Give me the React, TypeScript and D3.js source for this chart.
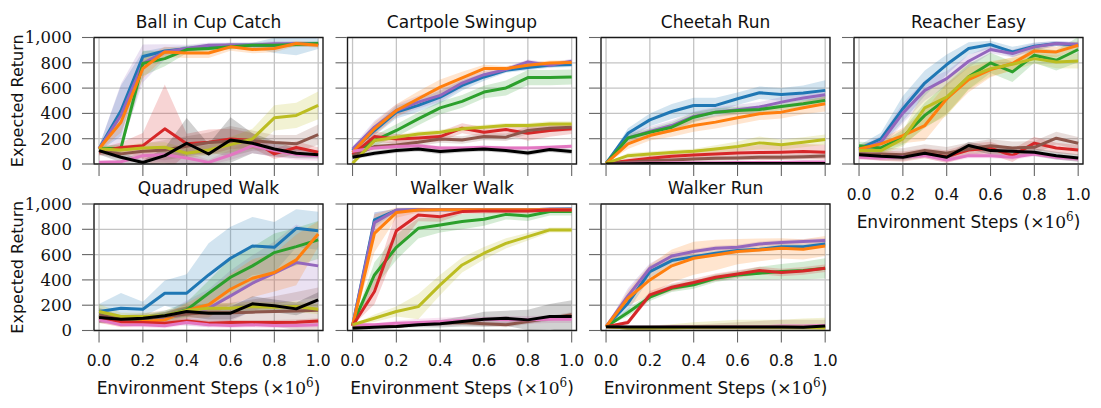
import React, { useEffect, useRef } from "react"
import * as d3 from "d3"

// training steps (x 1e6) at which every run was evaluated
const steps = [0, 0.1, 0.2, 0.3, 0.4, 0.5, 0.6, 0.7, 0.8, 0.9, 1.0]
const xTicks = [0, 0.2, 0.4, 0.6, 0.8, 1.0]
const yTicks = [0, 200, 400, 600, 800, 1000]

// drawing order, bottom to top
const order = ["blue", "purple", "green", "orange", "red", "brown", "pink", "olive", "black"]

const colors: Record<string, string> = {
  blue: "#1f77b4",
  orange: "#ff7f0e",
  green: "#2ca02c",
  red: "#d62728",
  purple: "#9467bd",
  brown: "#8c564b",
  pink: "#e377c2",
  olive: "#bcbd22",
  black: "#000000",
}

const titles = [
  "Ball in Cup Catch",
  "Cartpole Swingup",
  "Cheetah Run",
  "Reacher Easy",
  "Quadruped Walk",
  "Walker Walk",
  "Walker Run",
]

const cupMean: Record<string, number[]> = {
  blue: [120, 420, 850, 893, 912, 930, 938, 938, 938, 950, 950],
  purple: [120, 385, 795, 886, 913, 938, 940, 940, 950, 950, 945],
  green: [120, 125, 795, 833, 905, 913, 926, 938, 938, 945, 952],
  orange: [120, 330, 755, 886, 878, 878, 926, 905, 913, 952, 938],
  red: [95, 130, 145, 278, 160, 172, 198, 185, 80, 130, 93],
  brown: [105, 80, 100, 110, 140, 170, 180, 185, 170, 160, 233],
  pink: [13, 18, 66, 74, 48, 13, 71, 145, 106, 74, 66],
  olive: [119, 111, 127, 132, 85, 111, 153, 198, 365, 384, 463],
  black: [106, 53, 12, 66, 164, 79, 190, 164, 119, 85, 74],
}
const cupSpread: Record<string, number[]> = {
  blue: [20, 200, 40, 30, 20, 20, 20, 20, 60, 90, 40],
  purple: [20, 250, 150, 60, 30, 20, 20, 20, 20, 20, 20],
  green: [20, 30, 100, 60, 30, 20, 20, 20, 20, 20, 20],
  orange: [20, 80, 80, 40, 40, 40, 30, 30, 30, 20, 20],
  red: [30, 40, 100, 350, 80, 100, 80, 60, 40, 50, 40],
  brown: [30, 40, 60, 80, 80, 80, 120, 80, 60, 70, 80],
  pink: [10, 15, 40, 60, 40, 20, 40, 60, 50, 40, 40],
  olive: [30, 30, 40, 40, 40, 40, 60, 80, 100, 100, 110],
  black: [30, 40, 20, 60, 200, 80, 180, 80, 60, 40, 30],
}

const cartMean: Record<string, number[]> = {
  blue: [106, 265, 410, 463, 529, 622, 688, 741, 762, 780, 786],
  purple: [119, 291, 423, 489, 542, 640, 706, 746, 807, 780, 812],
  green: [66, 185, 265, 357, 444, 495, 569, 601, 683, 683, 688],
  orange: [93, 278, 423, 516, 608, 680, 754, 754, 780, 799, 802],
  red: [74, 217, 198, 206, 217, 283, 251, 272, 243, 265, 278],
  brown: [66, 138, 151, 172, 198, 190, 217, 212, 265, 283, 291],
  pink: [100, 127, 138, 145, 127, 127, 132, 127, 127, 132, 140],
  olive: [5, 185, 212, 238, 251, 278, 291, 304, 304, 317, 317],
  black: [53, 85, 106, 119, 98, 111, 119, 106, 87, 114, 98],
}
const cartSpread: Record<string, number[]> = {
  blue: [20, 40, 50, 50, 50, 40, 30, 20, 20, 20, 20],
  purple: [20, 50, 50, 50, 50, 40, 30, 20, 20, 20, 20],
  green: [20, 40, 50, 50, 50, 50, 50, 60, 60, 60, 60],
  orange: [20, 50, 50, 60, 60, 50, 30, 20, 20, 20, 20],
  red: [20, 40, 40, 30, 40, 40, 40, 40, 60, 50, 40],
  brown: [20, 30, 30, 30, 30, 30, 30, 30, 30, 30, 30],
  pink: [15, 15, 15, 15, 15, 15, 15, 15, 15, 15, 15],
  olive: [10, 20, 20, 20, 20, 20, 20, 20, 20, 20, 20],
  black: [15, 20, 20, 20, 20, 20, 20, 20, 20, 20, 20],
}

const cheetahMean: Record<string, number[]> = {
  blue: [5, 243, 349, 415, 463, 463, 516, 563, 550, 561, 582],
  purple: [5, 206, 257, 304, 376, 410, 429, 450, 489, 521, 548],
  green: [5, 206, 251, 291, 370, 410, 423, 431, 455, 476, 503],
  orange: [5, 159, 225, 265, 304, 331, 365, 397, 410, 444, 476],
  red: [5, 26, 45, 61, 71, 79, 87, 90, 93, 98, 93],
  brown: [5, 13, 26, 32, 40, 45, 48, 53, 53, 58, 63],
  pink: [0, 5, 8, 10, 10, 10, 12, 12, 12, 15, 15],
  olive: [5, 66, 79, 90, 100, 119, 138, 167, 153, 172, 193],
  black: [0, 2, 3, 3, 3, 3, 3, 3, 3, 3, 3],
}
const cheetahSpread: Record<string, number[]> = {
  blue: [0, 40, 50, 60, 60, 60, 50, 50, 50, 60, 80],
  purple: [0, 40, 40, 40, 40, 40, 40, 40, 40, 40, 40],
  green: [0, 30, 30, 40, 40, 30, 30, 30, 30, 30, 30],
  orange: [0, 40, 40, 50, 50, 50, 50, 50, 50, 50, 60],
  red: [0, 20, 30, 40, 40, 50, 50, 60, 60, 60, 60],
  brown: [0, 10, 20, 20, 20, 20, 20, 20, 20, 20, 20],
  pink: [0, 5, 5, 5, 5, 5, 5, 5, 5, 5, 5],
  olive: [0, 20, 20, 20, 20, 30, 40, 50, 40, 40, 40],
  black: [0, 3, 3, 3, 3, 3, 3, 3, 3, 3, 3],
}

const reacherMean: Record<string, number[]> = {
  blue: [119, 198, 437, 640, 786, 913, 944, 886, 931, 952, 939],
  purple: [106, 172, 402, 582, 675, 812, 905, 873, 926, 952, 947],
  green: [145, 127, 212, 384, 516, 690, 799, 728, 860, 820, 905],
  orange: [119, 159, 225, 304, 516, 667, 746, 794, 894, 886, 939],
  red: [74, 66, 58, 85, 58, 110, 125, 66, 165, 127, 111],
  brown: [79, 79, 74, 106, 85, 119, 145, 127, 132, 204, 164],
  pink: [53, 48, 58, 66, 32, 66, 66, 53, 79, 53, 40],
  olive: [106, 106, 198, 444, 529, 688, 754, 788, 833, 807, 815],
  black: [74, 61, 53, 85, 53, 146, 106, 100, 93, 66, 48],
}
const reacherSpread: Record<string, number[]> = {
  blue: [30, 50, 100, 100, 80, 50, 30, 40, 30, 20, 20],
  purple: [30, 50, 80, 80, 60, 50, 30, 30, 30, 20, 20],
  green: [30, 40, 60, 100, 120, 100, 80, 80, 60, 80, 100],
  orange: [30, 40, 60, 120, 120, 100, 60, 50, 40, 40, 30],
  red: [30, 40, 40, 40, 50, 50, 50, 50, 50, 40, 40],
  brown: [40, 50, 50, 50, 50, 50, 50, 50, 50, 50, 50],
  pink: [20, 20, 20, 20, 20, 20, 20, 20, 20, 20, 20],
  olive: [30, 30, 60, 150, 150, 100, 60, 50, 40, 50, 60],
  black: [20, 20, 20, 20, 20, 30, 30, 30, 30, 30, 30],
}

const quadMean: Record<string, number[]> = {
  blue: [150, 176, 168, 295, 295, 439, 571, 668, 658, 808, 789],
  purple: [110, 70, 80, 97, 137, 176, 274, 374, 453, 537, 511],
  green: [124, 71, 89, 116, 163, 295, 421, 511, 616, 663, 716],
  orange: [110, 58, 71, 84, 158, 203, 326, 413, 458, 558, 763],
  red: [97, 71, 63, 58, 76, 58, 63, 63, 63, 66, 76],
  brown: [120, 90, 95, 110, 130, 140, 140, 145, 150, 155, 160],
  pink: [84, 45, 45, 37, 63, 45, 39, 45, 39, 39, 45],
  olive: [150, 110, 110, 116, 158, 176, 176, 189, 184, 189, 168],
  black: [103, 89, 97, 116, 150, 137, 137, 211, 195, 171, 242],
}
const quadSpread: Record<string, number[]> = {
  blue: [60, 120, 60, 100, 150, 250, 250, 230, 200, 150, 150],
  purple: [50, 30, 30, 40, 100, 150, 200, 220, 250, 300, 250],
  green: [50, 30, 30, 40, 60, 100, 150, 150, 150, 150, 150],
  orange: [50, 30, 30, 40, 60, 100, 120, 150, 150, 200, 100],
  red: [30, 20, 20, 20, 20, 20, 20, 20, 20, 20, 20],
  brown: [60, 30, 40, 50, 60, 70, 80, 100, 120, 150, 180],
  pink: [20, 20, 20, 20, 20, 20, 20, 20, 20, 20, 20],
  olive: [60, 30, 30, 30, 40, 40, 40, 40, 40, 40, 40],
  black: [40, 20, 20, 30, 40, 50, 50, 60, 50, 50, 60],
}

const walkMean: Record<string, number[]> = {
  blue: [37, 875, 950, 955, 955, 955, 955, 955, 955, 958, 960],
  purple: [37, 853, 953, 955, 955, 955, 955, 955, 955, 958, 958],
  green: [45, 439, 658, 808, 834, 861, 879, 918, 905, 940, 940],
  orange: [37, 768, 932, 953, 955, 955, 955, 955, 955, 955, 955],
  red: [37, 308, 789, 913, 900, 940, 945, 945, 945, 953, 953],
  brown: [37, 32, 32, 53, 58, 63, 53, 45, 71, 97, 124],
  pink: [45, 45, 58, 63, 71, 79, 89, 84, 84, 89, 89],
  olive: [45, 97, 150, 189, 361, 518, 611, 689, 742, 795, 795],
  black: [18, 26, 32, 45, 53, 71, 89, 97, 84, 110, 110],
}
const walkSpread: Record<string, number[]> = {
  blue: [0, 60, 10, 10, 10, 10, 10, 10, 10, 10, 10],
  purple: [0, 80, 10, 10, 10, 10, 10, 10, 10, 10, 10],
  green: [0, 100, 100, 80, 60, 60, 50, 40, 40, 30, 30],
  orange: [0, 150, 40, 20, 10, 10, 10, 10, 10, 10, 10],
  red: [0, 100, 150, 50, 40, 20, 20, 20, 20, 20, 20],
  brown: [0, 10, 10, 20, 20, 20, 20, 20, 20, 20, 20],
  pink: [10, 10, 20, 30, 30, 30, 20, 30, 30, 30, 30],
  olive: [0, 30, 40, 100, 80, 60, 50, 40, 30, 20, 20],
  black: [0, 10, 10, 20, 30, 40, 60, 60, 80, 100, 130],
}

const runMean: Record<string, number[]> = {
  blue: [30, 216, 466, 553, 584, 611, 632, 642, 663, 663, 684],
  purple: [30, 274, 492, 589, 624, 650, 658, 684, 695, 703, 711],
  green: [30, 142, 263, 334, 361, 413, 439, 453, 466, 474, 492],
  orange: [30, 255, 400, 511, 571, 597, 624, 637, 650, 642, 668],
  red: [30, 63, 282, 342, 379, 421, 447, 474, 458, 471, 492],
  brown: [30, 20, 20, 25, 25, 25, 25, 25, 25, 25, 25],
  pink: [30, 25, 25, 28, 28, 30, 30, 30, 35, 35, 40],
  olive: [30, 20, 20, 20, 25, 25, 25, 25, 25, 25, 20],
  black: [30, 28, 28, 28, 28, 28, 28, 28, 28, 25, 35],
}
const runSpread: Record<string, number[]> = {
  blue: [0, 60, 50, 30, 20, 20, 20, 20, 20, 20, 20],
  purple: [0, 60, 40, 30, 20, 20, 20, 20, 20, 20, 20],
  green: [0, 30, 30, 30, 30, 30, 30, 50, 60, 70, 80],
  orange: [0, 60, 120, 130, 130, 120, 100, 90, 80, 80, 80],
  red: [0, 20, 30, 30, 30, 30, 30, 30, 30, 30, 30],
  brown: [0, 10, 10, 20, 20, 30, 40, 50, 60, 60, 60],
  pink: [0, 5, 5, 5, 5, 5, 5, 5, 5, 5, 5],
  olive: [0, 10, 20, 30, 40, 50, 60, 60, 60, 70, 80],
  black: [0, 5, 5, 5, 5, 5, 5, 5, 5, 5, 5],
}

const means = [cupMean, cartMean, cheetahMean, reacherMean, quadMean, walkMean, runMean]
const spreads = [cupSpread, cartSpread, cheetahSpread, reacherSpread, quadSpread, walkSpread, runSpread]

const colLefts = [94, 347.5, 601, 854]
const rowTops = [37.5, 204]
const panelW = 229
const panelH = 126.5

const sans = "'DejaVu Sans', 'Liberation Sans', sans-serif"
const serif = "'DejaVu Serif', 'Liberation Serif', serif"

const App = () => {
  const ref = useRef<SVGSVGElement>(null)

  const drawChart = () => {
    const svg = d3.select(ref.current)
    svg.selectAll("*").remove()
    const defs = svg.append("defs")

    titles.forEach((title, i) => {
      const row = i < 4 ? 0 : 1
      const col = i < 4 ? i : i - 4
      const left = colLefts[col]
      const top = rowTops[row]
      const bottom = top + panelH
      const showX = row === 1 || col === 3
      const showY = col === 0

      const x = d3.scaleLinear().domain([-0.023, 1.022]).range([left, left + panelW])
      const y = d3.scaleLinear().domain([0, 1000]).range([bottom, top])

      defs
        .append("clipPath")
        .attr("id", `clip-${i}`)
        .append("rect")
        .attr("x", left)
        .attr("y", top)
        .attr("width", panelW)
        .attr("height", panelH)

      const g = svg.append("g")

      // grid
      g.selectAll(".gx")
        .data(xTicks)
        .join("line")
        .attr("x1", (d) => x(d))
        .attr("x2", (d) => x(d))
        .attr("y1", top)
        .attr("y2", bottom)
        .attr("stroke", "#c4c4c4")
        .attr("stroke-width", 1.3)
      g.selectAll(".gy")
        .data(yTicks)
        .join("line")
        .attr("x1", left)
        .attr("x2", left + panelW)
        .attr("y1", (d) => y(d))
        .attr("y2", (d) => y(d))
        .attr("stroke", "#c4c4c4")
        .attr("stroke-width", 1.3)

      const plot = g.append("g").attr("clip-path", `url(#clip-${i})`)
      const mean = means[i]
      const spread = spreads[i]

      order.forEach((key) => {
        const s = spread[key]
        const band = d3
          .area<number>()
          .x((_, j) => x(steps[j]))
          .y0((m, j) => y(m - s[j]))
          .y1((m, j) => y(m + s[j]))
        plot
          .append("path")
          .attr("d", band(mean[key]))
          .attr("fill", colors[key])
          .attr("fill-opacity", key === "black" ? 0.18 : 0.2)
      })

      const line = d3
        .line<number>()
        .x((_, j) => x(steps[j]))
        .y((m) => y(m))

      order.forEach((key) => {
        plot
          .append("path")
          .attr("d", line(mean[key]))
          .attr("fill", "none")
          .attr("stroke", colors[key])
          .attr("stroke-width", 3)
          .attr("stroke-linejoin", "round")
      })

      // frame
      g.append("rect")
        .attr("x", left)
        .attr("y", top)
        .attr("width", panelW)
        .attr("height", panelH)
        .attr("fill", "none")
        .attr("stroke", "#1a1a1a")
        .attr("stroke-width", 1.4)

      // ticks
      g.selectAll(".tx")
        .data(xTicks)
        .join("line")
        .attr("x1", (d) => x(d))
        .attr("x2", (d) => x(d))
        .attr("y1", bottom + 0.7)
        .attr("y2", bottom + 12)
        .attr("stroke", "#666")
        .attr("stroke-width", 1.1)
      g.selectAll(".ty")
        .data(yTicks)
        .join("line")
        .attr("x1", left - 0.7)
        .attr("x2", left - 12)
        .attr("y1", (d) => y(d))
        .attr("y2", (d) => y(d))
        .attr("stroke", "#666")
        .attr("stroke-width", 1.1)

      g.append("text")
        .attr("x", left + panelW / 2)
        .attr("y", top - 10)
        .attr("text-anchor", "middle")
        .attr("font-family", sans)
        .attr("font-size", 17)
        .attr("fill", "#111")
        .text(title)

      if (showY) {
        g.selectAll(".ly")
          .data(yTicks)
          .join("text")
          .attr("x", left - 22)
          .attr("y", (d) => y(d))
          .attr("dy", "0.36em")
          .attr("text-anchor", "end")
          .attr("font-family", serif)
          .attr("font-size", 16.5)
          .attr("fill", "#111")
          .text((d) => d3.format(",")(d))

        g.append("text")
          .attr("transform", `translate(23, ${top + panelH / 2}) rotate(-90)`)
          .attr("text-anchor", "middle")
          .attr("font-family", sans)
          .attr("font-size", 16)
          .attr("fill", "#111")
          .text("Expected Return")
      }

      if (showX) {
        g.selectAll(".lx")
          .data(xTicks)
          .join("text")
          .attr("x", (d) => x(d))
          .attr("y", bottom + 35.5)
          .attr("text-anchor", "middle")
          .attr("font-family", sans)
          .attr("font-size", 15.5)
          .attr("fill", "#111")
          .text((d) => d3.format(".1f")(d))

        const label = g
          .append("text")
          .attr("x", left + panelW / 2)
          .attr("y", bottom + 63.5)
          .attr("text-anchor", "middle")
          .attr("font-family", sans)
          .attr("font-size", 17)
          .attr("fill", "#111")
        label.append("tspan").text("Environment Steps (")
        label.append("tspan").attr("font-family", serif).text("\u00d710")
        label
          .append("tspan")
          .attr("font-family", serif)
          .attr("font-size", 12)
          .attr("dy", -7)
          .text("6")
        label.append("tspan").attr("dy", 7).text(")")
      }
    })
  }

  useEffect(() => {
    drawChart()
  })

  return (
    <svg
      ref={ref}
      width={1101}
      height={408}
      style={{ position: "absolute", left: 0, top: 0, background: "#fff" }}
    />
  )
}

export default App
